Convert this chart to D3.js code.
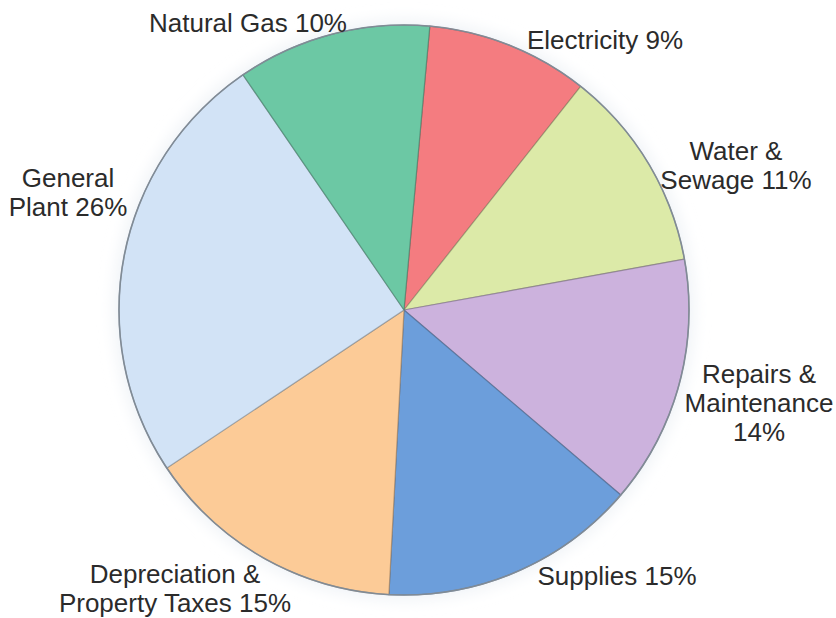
<!DOCTYPE html>
<html>
<head>
<meta charset="utf-8">
<script src="https://cdn.jsdelivr.net/npm/d3@7"></script>
<style>
  html, body { margin: 0; padding: 0; background: #ffffff; }
  svg { display: block; }
  text { font-family: "Liberation Sans", Arial, sans-serif; fill: #2b2b2b; }
</style>
</head>
<body>
<svg id="chart" width="836" height="618"></svg>
<script>
// ---- data ----
const categories = ["Electricity", "Water & Sewage", "Repairs & Maintenance", "Supplies",
                    "Depreciation & Property Taxes", "General Plant", "Natural Gas"];
// slice sizes as read from the drawn wedges (percent of the circle)
const values = [9.2, 11.5, 14.1, 14.6, 14.8, 24.8, 11.0];
const labelLines = [
  ["Electricity 9%"],
  ["Water &", "Sewage 11%"],
  ["Repairs &", "Maintenance", "14%"],
  ["Supplies 15%"],
  ["Depreciation &", "Property Taxes 15%"],
  ["General", "Plant 26%"],
  ["Natural Gas 10%"]
];
const colors = ["#f47c80", "#dceaa8", "#ccb2dd", "#6c9edb", "#fccb97", "#d2e3f6", "#6cc8a4"];

// ---- layout ----
const cx = 404, cy = 310, R = 285;
const startDeg = 5.2;
const fontSize = 26, lineH = 29;
// label anchor (x, first baseline) per category
const labelPos = [
  [605, 49], [736, 160], [759, 383], [617, 585], [175, 583], [68, 187], [248, 32]
];

const svg = d3.select("#chart");
const defs = svg.append("defs");

const data = categories.map((c, i) => ({ cat: c, value: values[i], color: colors[i], i }));

const pie = d3.pie().sort(null).value(d => d.value)
  .startAngle(startDeg * Math.PI / 180)
  .endAngle(startDeg * Math.PI / 180 + 2 * Math.PI);
const arc = d3.arc().innerRadius(0).outerRadius(R);

// soft glow around the pie
const glow = defs.append("filter").attr("id", "glow")
  .attr("x", "-20%").attr("y", "-20%").attr("width", "140%").attr("height", "140%");
glow.append("feGaussianBlur").attr("stdDeviation", 8);

const gPie = svg.append("g").attr("transform", `translate(${cx},${cy})`);

gPie.append("circle")
  .attr("r", R + 4)
  .attr("fill", "#eef2f6")
  .attr("filter", "url(#glow)");

gPie.selectAll("path.slice")
  .data(pie(data))
  .join("path")
  .attr("class", "slice")
  .attr("d", arc)
  .attr("fill", d => d.data.color)
  .attr("stroke", d => d3.color(d.data.color).darker(1.4))
  .attr("stroke-width", 1.2)
  .attr("stroke-opacity", 0.6)
  .attr("stroke-linejoin", "round");

// outer rim
gPie.append("circle")
  .attr("r", R)
  .attr("fill", "none")
  .attr("stroke", "#808b96")
  .attr("stroke-width", 1.6);

// labels
const gLab = svg.append("g");
data.forEach((d, i) => {
  const [x, y] = labelPos[i];
  const t = gLab.append("text")
    .attr("x", x).attr("y", y)
    .attr("text-anchor", "middle")
    .style("font-size", fontSize + "px");
  labelLines[i].forEach((line, k) => {
    t.append("tspan").attr("x", x).attr("y", y + k * lineH).text(line);
  });
});
</script>
</body>
</html>
